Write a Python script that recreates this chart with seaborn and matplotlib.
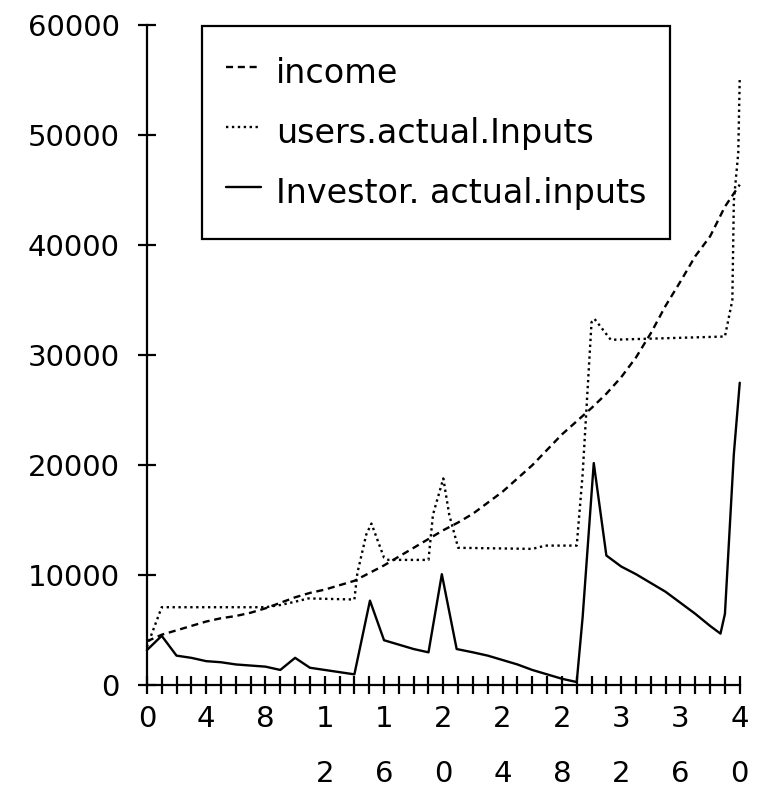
import matplotlib
matplotlib.use("Agg")
import matplotlib.pyplot as plt
import seaborn as sns
import pandas as pd
from matplotlib.ticker import MultipleLocator

# ---- data -----------------------------------------------------------------
income_x = list(range(41))
income = [4000, 4600, 5000, 5400, 5800, 6100, 6300, 6600, 7000, 7500,
          8000, 8400, 8700, 9100, 9500, 10200, 10900, 11700, 12500, 13300,
          14100, 14800, 15600, 16600, 17600, 18800, 20000, 21400, 22800, 24000,
          25200, 26500, 28000, 29800, 32000, 34500, 36700, 39000, 40800, 43500,
          45500]

users_x = [0, 1, 8, 9, 10, 10.9, 14, 14.2, 14.8, 15.15, 16, 16.3, 19, 19.3,
           20.0, 20.4, 21, 26, 26.9, 29, 29.4, 30.0, 30.2, 31.3, 39, 39.5,
           39.6, 39.9, 40]
users = [3500, 7100, 7100, 7300, 7600, 7900, 7800, 10200, 13700, 14700,
         11600, 11400, 11400, 15500, 18800, 15500, 12500, 12400, 12700, 12700,
         19200, 33000, 33300, 31400, 31700, 35000, 44000, 48400, 55300]

investor_x = [0, 1, 2, 3, 4, 5, 6, 7, 8, 9, 10, 11, 12, 13, 14, 15.05, 16,
              17, 18, 19, 19.9, 20.9, 22, 23, 24, 25, 26, 27, 28, 29, 29.4,
              30.15, 31, 32, 33, 34, 35, 36, 37, 38, 38.7, 39, 39.6, 40]
investor = [3200, 4500, 2700, 2500, 2200, 2100, 1900, 1800, 1700, 1400,
            2500, 1600, 1400, 1200, 1000, 7700, 4100, 3700, 3300, 3000,
            10100, 3300, 3000, 2700, 2300, 1900, 1400, 1000, 600, 300,
            6200, 20200, 11800, 10800, 10100, 9300, 8500, 7500, 6500, 5400,
            4700, 6500, 21000, 27500]

series_names = ["income", "users.actual.Inputs", "Investor. actual.inputs"]

x_ticks = [0, 4, 8, 12, 16, 20, 24, 28, 32, 36, 40]
x_tick_labels = ["0", "4", "8", "1\n2", "1\n6", "2\n0", "2\n4", "2\n8",
                 "3\n2", "3\n6", "4\n0"]
y_ticks = [0, 10000, 20000, 30000, 40000, 50000, 60000]

# ---- long-form table --------------------------------------------------------
frames = []
for name, xs, ys in zip(series_names,
                        [income_x, users_x, investor_x],
                        [income, users, investor]):
    frames.append(pd.DataFrame({"t": xs, "value": ys, "series": name}))
df = pd.concat(frames, ignore_index=True)

# ---- figure -----------------------------------------------------------------
sns.set_theme(style="ticks")
plt.rcParams["font.family"] = ["DejaVu Sans"]
plt.rcParams["text.color"] = "black"
plt.rcParams["xtick.color"] = "black"
plt.rcParams["ytick.color"] = "black"
plt.rcParams["xtick.labelcolor"] = "black"
plt.rcParams["ytick.labelcolor"] = "black"

fig = plt.figure(figsize=(7.65, 7.96), dpi=100)
ax = fig.add_axes([0.192, 0.139, 0.775, 0.8295])

sns.lineplot(
    data=df, x="t", y="value", hue="series", style="series",
    hue_order=series_names, style_order=series_names,
    palette={n: "black" for n in series_names},
    dashes={"income": (3, 2), "users.actual.Inputs": (1, 1.5),
            "Investor. actual.inputs": ""},
    linewidth=1.7, estimator=None, errorbar=None, sort=True, ax=ax,
)
for ln in ax.get_lines():
    ln.set_clip_on(False)

ax.set_xlim(0, 40)
ax.set_ylim(0, 60000)
ax.set_xlabel("")
ax.set_ylabel("")

for side in ("top", "right"):
    ax.spines[side].set_visible(False)
for side in ("left", "bottom"):
    ax.spines[side].set_linewidth(1.6)
    ax.spines[side].set_color("black")

ax.set_yticks(y_ticks)
ax.set_yticklabels([str(v) for v in y_ticks])
ax.set_xticks(x_ticks)
ax.set_xticklabels(x_tick_labels)
ax.xaxis.set_minor_locator(MultipleLocator(1))

ax.tick_params(axis="y", which="major", direction="inout", length=13,
               width=1.6, labelsize=21, pad=13)
ax.tick_params(axis="x", which="both", direction="inout", length=13,
               width=1.6)
ax.tick_params(axis="x", which="major", labelsize=21, pad=8)
for lab in ax.get_xticklabels():
    lab.set_linespacing(2.2)
    lab.set_verticalalignment("top")

handles, labels = ax.get_legend_handles_labels()
if ax.get_legend() is not None:
    ax.get_legend().remove()
leg = ax.legend(
    handles, labels, loc="upper left", bbox_to_anchor=(0.093, 0.998),
    fontsize=24, frameon=True, fancybox=False, edgecolor="black",
    handlelength=1.05, handleheight=1.7, handletextpad=0.45,
    labelspacing=0.45, borderpad=0.71, borderaxespad=0,
)
leg.get_frame().set_linewidth(1.6)
leg.get_frame().set_alpha(1)

fig.savefig("out.png", dpi=100, facecolor="white")
